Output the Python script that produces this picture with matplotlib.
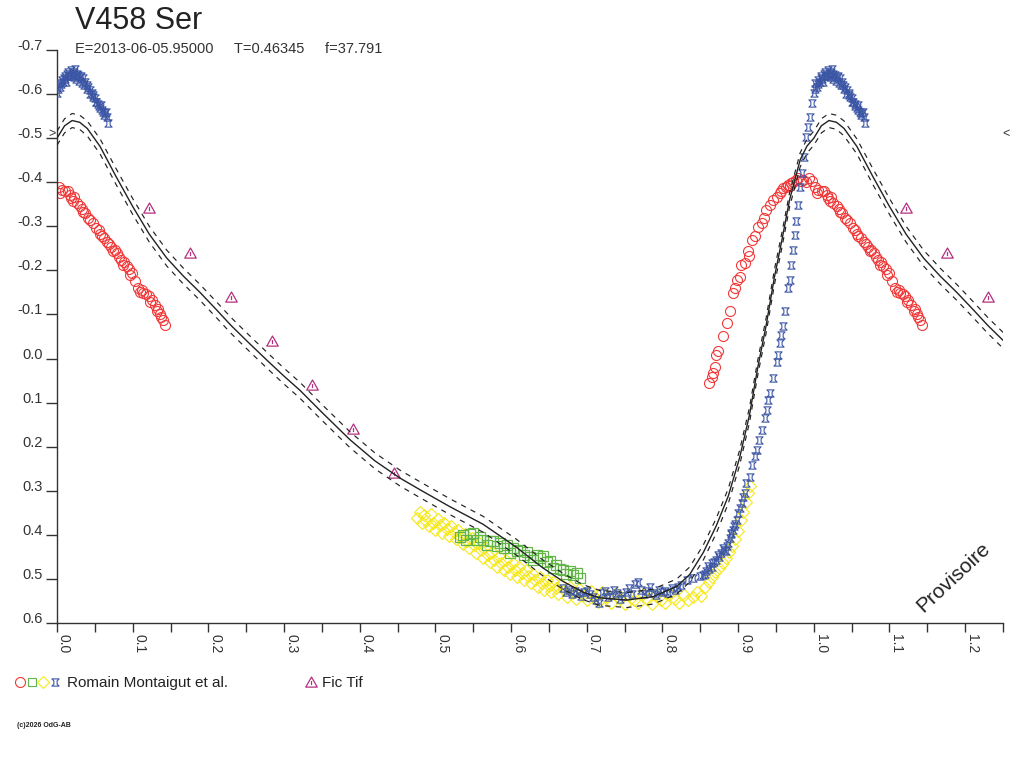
import numpy as np
import matplotlib
matplotlib.use('Agg')
import matplotlib.pyplot as plt
from matplotlib.path import Path

plt.rcParams['font.family'] = ['Liberation Sans', 'DejaVu Sans']

# ---------------- data (phase, magnitude) ----------------
title = 'V458 Ser'
subtitle = 'E=2013-06-05.95000     T=0.46345     f=37.791'
legend_obs = 'Romain Montaigut et al.'
legend_fic = 'Fic Tif'

x_major = [0.0, 0.1, 0.2, 0.3, 0.4, 0.5, 0.6, 0.7, 0.8, 0.9, 1.0, 1.1, 1.2]
x_minor = [0.05, 0.15, 0.25, 0.35, 0.45, 0.55, 0.65, 0.75, 0.85, 0.95, 1.05, 1.15, 1.25]
x_labels = ['0.0', '0.1', '0.2', '0.3', '0.4', '0.5', '0.6', '0.7', '0.8', '0.9', '1.0', '1.1', '1.2']
y_ticks = [-0.7, -0.6, -0.5, -0.4, -0.3, -0.2, -0.1, 0.0, 0.1, 0.2, 0.3, 0.4, 0.5, 0.6]
y_labels = ['-0.7', '-0.6', '-0.5', '-0.4', '-0.3', '-0.2', '-0.1', '0.0', '0.1', '0.2', '0.3',
            '0.4', '0.5', '0.6']

fit_phase = [0.000, 0.010, 0.020, 0.030, 0.040, 0.057, 0.078, 0.100, 0.122, 0.145, 0.167, 0.189,
             0.210, 0.230, 0.255, 0.280, 0.300, 0.321, 0.350, 0.387, 0.420, 0.453, 0.480, 0.519,
             0.563, 0.607, 0.642, 0.669, 0.695, 0.717, 0.753, 0.788, 0.819, 0.836, 0.854, 0.871,
             0.887, 0.902, 0.915, 0.926, 0.937, 0.948, 0.958, 0.968, 0.982, 0.991]
fit_mag = [-0.500, -0.528, -0.540, -0.536, -0.522, -0.481, -0.413, -0.345, -0.282, -0.228, -0.187,
           -0.150, -0.112, -0.075, -0.033, 0.008, 0.040, 0.072, 0.122, 0.184, 0.232, 0.271, 0.298,
           0.336, 0.376, 0.428, 0.475, 0.506, 0.530, 0.543, 0.548, 0.540, 0.517, 0.490, 0.440,
           0.380, 0.312, 0.225, 0.128, 0.020, -0.075, -0.185, -0.270, -0.360, -0.451, -0.482]
fit_sigma = [0.016, 0.016, 0.016, 0.016, 0.017, 0.017, 0.018, 0.018, 0.018, 0.018, 0.018, 0.018,
             0.018, 0.018, 0.018, 0.018, 0.018, 0.018, 0.018, 0.018, 0.018, 0.018, 0.018, 0.018,
             0.018, 0.018, 0.018, 0.018, 0.017, 0.017, 0.017, 0.017, 0.017, 0.017, 0.017, 0.017,
             0.017, 0.017, 0.017, 0.017, 0.017, 0.017, 0.017, 0.016, 0.016, 0.016]

red_phase = [0.002, 0.004, 0.006, 0.011, 0.014, 0.017, 0.019, 0.021, 0.023, 0.026, 0.030, 0.033,
             0.035, 0.037, 0.041, 0.044, 0.048, 0.052, 0.055, 0.057, 0.059, 0.062, 0.066, 0.069,
             0.072, 0.074, 0.076, 0.079, 0.082, 0.085, 0.087, 0.089, 0.092, 0.095, 0.097, 0.099,
             0.103, 0.107, 0.110, 0.112, 0.114, 0.118, 0.121, 0.123, 0.125, 0.129, 0.132, 0.134,
             0.136, 0.138, 0.140, 0.143,
             0.862, 0.865, 0.867, 0.869, 0.871, 0.873, 0.880, 0.885, 0.889, 0.893, 0.896, 0.898,
             0.902, 0.904, 0.909, 0.913, 0.915, 0.918, 0.922, 0.926, 0.931, 0.934, 0.937, 0.942,
             0.946, 0.951, 0.955, 0.957, 0.959, 0.963, 0.966, 0.968, 0.970, 0.973, 0.976, 0.979,
             0.983, 0.986, 0.990, 0.993, 0.997]
red_mag = [-0.390, -0.376, -0.383, -0.379, -0.381, -0.371, -0.364, -0.357, -0.366, -0.352, -0.345,
           -0.340, -0.333, -0.330, -0.318, -0.315, -0.307, -0.296, -0.292, -0.283, -0.277, -0.274,
           -0.265, -0.259, -0.254, -0.244, -0.247, -0.239, -0.231, -0.224, -0.212, -0.218, -0.209,
           -0.203, -0.190, -0.194, -0.175, -0.160, -0.152, -0.156, -0.148, -0.146, -0.141, -0.128,
           -0.133, -0.122, -0.107, -0.112, -0.100, -0.094, -0.088, -0.076,
           0.056, 0.041, 0.033, 0.020, -0.008, -0.016, -0.050, -0.080, -0.107, -0.148, -0.160,
           -0.178, -0.186, -0.212, -0.216, -0.243, -0.232, -0.269, -0.277, -0.299, -0.307, -0.318,
           -0.337, -0.349, -0.360, -0.367, -0.375, -0.380, -0.386, -0.390, -0.394, -0.392, -0.398,
           -0.401, -0.405, -0.409, -0.403, -0.405, -0.400, -0.409, -0.403]

green_phase = [0.532, 0.537, 0.541, 0.546, 0.550, 0.555, 0.559, 0.563, 0.568, 0.572, 0.576, 0.581,
               0.585, 0.590, 0.594, 0.599, 0.603, 0.608, 0.612, 0.617, 0.621, 0.625, 0.629, 0.634,
               0.638, 0.642, 0.647, 0.651, 0.656, 0.660, 0.664, 0.669, 0.673, 0.678, 0.682, 0.687,
               0.691]
green_mag = [0.405, 0.400, 0.411, 0.398, 0.396, 0.412, 0.405, 0.411, 0.422, 0.413, 0.415, 0.426,
             0.419, 0.430, 0.422, 0.441, 0.430, 0.436, 0.434, 0.445, 0.438, 0.450, 0.456, 0.445,
             0.452, 0.449, 0.462, 0.460, 0.475, 0.468, 0.478, 0.479, 0.488, 0.483, 0.492, 0.487,
             0.498]

yellow_phase = [0.476, 0.479, 0.482, 0.485, 0.488, 0.491, 0.494, 0.497, 0.500, 0.503, 0.506, 0.509,
                0.512, 0.515, 0.518, 0.521, 0.524, 0.527, 0.530, 0.533, 0.536, 0.539, 0.542, 0.545,
                0.548, 0.551, 0.554, 0.557, 0.560, 0.563, 0.566, 0.569, 0.572, 0.575, 0.578, 0.581,
                0.584, 0.587, 0.590, 0.593, 0.596, 0.599, 0.602, 0.605, 0.608, 0.611, 0.614, 0.617,
                0.620, 0.623, 0.626, 0.629, 0.632, 0.635, 0.638, 0.641, 0.644, 0.647, 0.650, 0.653,
                0.656, 0.659, 0.662, 0.666, 0.670, 0.674, 0.678, 0.682, 0.686, 0.690, 0.695, 0.700,
                0.705, 0.710, 0.715, 0.720, 0.726, 0.732, 0.738, 0.744, 0.750, 0.756, 0.762, 0.768,
                0.774, 0.780, 0.786, 0.792, 0.798, 0.804, 0.810, 0.816, 0.822, 0.828, 0.834, 0.840,
                0.846, 0.851, 0.856, 0.861, 0.866, 0.870, 0.875, 0.880, 0.884, 0.888, 0.892, 0.896,
                0.900, 0.904, 0.907, 0.910, 0.913, 0.916]
yellow_mag = [0.362, 0.348, 0.372, 0.355, 0.368, 0.380, 0.352, 0.374, 0.388, 0.365, 0.378, 0.395,
              0.372, 0.386, 0.402, 0.380, 0.394, 0.410, 0.390, 0.404, 0.420, 0.398, 0.414, 0.430,
              0.408, 0.424, 0.442, 0.418, 0.435, 0.452, 0.428, 0.446, 0.462, 0.440, 0.456, 0.472,
              0.448, 0.465, 0.480, 0.456, 0.472, 0.488, 0.465, 0.480, 0.495, 0.472, 0.487, 0.502,
              0.480, 0.494, 0.510, 0.488, 0.502, 0.518, 0.495, 0.510, 0.524, 0.502, 0.516, 0.530,
              0.508, 0.520, 0.534, 0.512, 0.526, 0.540, 0.518, 0.532, 0.545, 0.522, 0.536, 0.548,
              0.528, 0.540, 0.552, 0.530, 0.544, 0.554, 0.532, 0.546, 0.556, 0.536, 0.548, 0.555,
              0.534, 0.546, 0.556, 0.536, 0.548, 0.555, 0.534, 0.546, 0.554, 0.536, 0.548, 0.542,
              0.530, 0.538, 0.518, 0.508, 0.496, 0.485, 0.476, 0.464, 0.452, 0.440, 0.425, 0.410,
              0.392, 0.366, 0.348, 0.325, 0.305, 0.290]

blue_phase = [0.000, 0.001, 0.002, 0.004, 0.005, 0.006, 0.008, 0.009, 0.010, 0.011, 0.012, 0.013,
              0.015, 0.016, 0.017, 0.019, 0.020, 0.021, 0.022, 0.023, 0.024, 0.025, 0.026, 0.028,
              0.029, 0.030, 0.032, 0.033, 0.035, 0.036, 0.037, 0.039, 0.040, 0.041, 0.043, 0.044,
              0.046, 0.047, 0.048, 0.050, 0.051, 0.052, 0.054, 0.055, 0.057, 0.058, 0.059, 0.061,
              0.062, 0.063, 0.065, 0.066, 0.068,
              0.668, 0.672, 0.676, 0.680, 0.684, 0.688, 0.692, 0.696, 0.700, 0.704, 0.708, 0.712,
              0.716, 0.720, 0.724, 0.728, 0.732, 0.736, 0.740, 0.744, 0.748, 0.752, 0.756, 0.760,
              0.764, 0.768, 0.772, 0.776, 0.780, 0.784, 0.788, 0.792, 0.796, 0.800, 0.804, 0.808,
              0.812, 0.816, 0.820,
              0.825, 0.832, 0.841, 0.849, 0.853, 0.856, 0.858, 0.860, 0.862, 0.865, 0.866, 0.868,
              0.871, 0.873, 0.875, 0.878, 0.880, 0.882, 0.884, 0.885, 0.887, 0.889, 0.890, 0.891,
              0.8935, 0.895, 0.896, 0.898, 0.900, 0.902, 0.9045, 0.907, 0.909, 0.911, 0.9155, 0.919,
              0.922, 0.9245, 0.928, 0.931, 0.935, 0.9375, 0.940, 0.942, 0.946, 0.951, 0.953, 0.955,
              0.957, 0.959, 0.962, 0.9665, 0.968, 0.9705, 0.973, 0.975, 0.977, 0.979, 0.9815, 0.984,
              0.987, 0.990, 0.9925, 0.995, 0.998]
blue_mag = [-0.602, -0.612, -0.624, -0.615, -0.622, -0.632, -0.628, -0.636, -0.640, -0.634, -0.628,
            -0.645, -0.651, -0.640, -0.644, -0.655, -0.642, -0.648, -0.638, -0.651, -0.656, -0.634,
            -0.645, -0.643, -0.630, -0.638, -0.640, -0.626, -0.636, -0.620, -0.628, -0.621, -0.612,
            -0.616, -0.600, -0.609, -0.603, -0.598, -0.594, -0.590, -0.582, -0.583, -0.578, -0.572,
            -0.568, -0.575, -0.565, -0.560, -0.552, -0.556, -0.560, -0.549, -0.534,
            0.520, 0.530, 0.525, 0.535, 0.528, 0.532, 0.538, 0.530, 0.527, 0.535, 0.541, 0.548,
            0.555, 0.533, 0.528, 0.540, 0.536, 0.524, 0.531, 0.545, 0.538, 0.529, 0.520, 0.534,
            0.512, 0.507, 0.526, 0.535, 0.528, 0.519, 0.531, 0.537, 0.524, 0.530, 0.527, 0.533,
            0.521, 0.526, 0.518,
            0.513, 0.502, 0.498, 0.494, 0.490, 0.488, 0.483, 0.470, 0.478, 0.472, 0.465, 0.462,
            0.456, 0.445, 0.450, 0.441, 0.430, 0.434, 0.437, 0.426, 0.418, 0.407, 0.395, 0.398,
            0.388, 0.380, 0.375, 0.366, 0.351, 0.340, 0.328, 0.315, 0.305, 0.282, 0.268, 0.241,
            0.222, 0.207, 0.184, 0.162, 0.135, 0.116, 0.094, 0.078, 0.044, 0.007, -0.008, -0.035,
            -0.054, -0.073, -0.107, -0.160, -0.178, -0.212, -0.246, -0.280, -0.311, -0.349, -0.390,
            -0.420, -0.458, -0.503, -0.526, -0.549, -0.579]

fic_phase = [0.122, 0.176, 0.230, 0.284, 0.337, 0.391, 0.445]
fic_mag = [-0.341, -0.240, -0.140, -0.040, 0.060, 0.159, 0.260]

PHASE_MAX = 1.25


def two_cycles(ph, mg, limit=PHASE_MAX):
    ph = np.asarray(ph, float)
    mg = np.asarray(mg, float)
    sel = ph + 1.0 <= limit + 0.006
    return np.concatenate([ph, ph[sel] + 1.0]), np.concatenate([mg, mg[sel]])


# ---------------- markers ----------------
M, L_, C = Path.MOVETO, Path.LINETO, Path.CLOSEPOLY
blue_marker = Path([(-1, 1), (1, 1), (0.45, 0.45), (0.45, -0.45), (1, -1), (-1, -1),
                    (-0.45, -0.45), (-0.45, 0.45), (-1, 1)],
                   [M, L_, L_, L_, L_, L_, L_, L_, C])
tri_marker = Path([(-1, -0.8), (1, -0.8), (0, 0.95), (-1, -0.8), (0, -0.45), (0, 0.25)],
                  [M, L_, L_, C, M, L_])

RED = '#f03a3a'
GREEN = '#62b648'
YELLOW = '#f5e81c'
BLUE = '#3b55a5'
MAGENTA = '#b3307f'
INK = '#222222'
GREY = '#333333'

MS_RED, MS_YEL, MS_GRN, MS_BLU, MS_TRI = 7.2, 6.3, 6.8, 5.2, 8.3

# ---------------- figure ----------------
W, H = 1024, 768
fig = plt.figure(figsize=(W / 100, H / 100), dpi=100)
AL, AR, AT, AB = 57, 1003, 50, 623
ax = fig.add_axes([AL / W, 1 - AB / H, (AR - AL) / W, (AB - AT) / H])
ax.set_xlim(0, PHASE_MAX)
ax.set_ylim(0.6, -0.7)

for s in ('top', 'right'):
    ax.spines[s].set_visible(False)
for s in ('left', 'bottom'):
    ax.spines[s].set_color(GREY)
    ax.spines[s].set_linewidth(1.0)

# observations
px, py = two_cycles(red_phase, red_mag)
ax.plot(px, py, ls='none', marker='o', ms=MS_RED, mfc='none', mec=RED, mew=0.8, zorder=2)
px, py = two_cycles(yellow_phase, yellow_mag)
ax.plot(px, py, ls='none', marker='D', ms=MS_YEL, mfc='none', mec=YELLOW, mew=0.8, zorder=2)
px, py = two_cycles(green_phase, green_mag)
ax.plot(px, py, ls='none', marker='s', ms=MS_GRN, mfc='none', mec=GREEN, mew=0.9, zorder=3)
px, py = two_cycles(blue_phase, blue_mag)
ax.plot(px, py, ls='none', marker=blue_marker, ms=MS_BLU, mfc='none', mec=BLUE, mew=0.8, zorder=3)
px, py = two_cycles(fic_phase, fic_mag)
ax.plot(px, py, ls='none', marker=tri_marker, ms=MS_TRI, mfc='none', mec=MAGENTA, mew=0.9,
        zorder=4)

# fit and its band
fp, fm = two_cycles(fit_phase, fit_mag, limit=PHASE_MAX + 0.01)
_, fs = two_cycles(fit_phase, fit_sigma, limit=PHASE_MAX + 0.01)
ax.plot(fp, fm, color=INK, lw=1.0, zorder=6)
ax.plot(fp, fm - fs, color=INK, lw=0.85, ls=(0, (4.5, 4.5)), zorder=6)
ax.plot(fp, fm + fs, color=INK, lw=0.85, ls=(0, (4.5, 4.5)), zorder=6)

# ticks
ax.set_xticks(x_major)
ax.set_xticks(x_minor, minor=True)
ax.set_xticklabels(x_labels, rotation=270, ha='left', va='top')
ax.tick_params(axis='x', which='both', direction='out', length=6.5, width=1.0, color=GREY,
               pad=1.5, labelsize=10, labelcolor=GREY)
ax.set_yticks(y_ticks)
ax.set_yticklabels(y_labels, va='baseline')
ax.tick_params(axis='y', which='both', direction='out', length=8, width=1.0, color=GREY,
               pad=2.5, labelsize=10.5, labelcolor=GREY)

# ---------------- overlay in pixel coordinates ----------------
ov = fig.add_axes([0, 0, 1, 1], zorder=10)
ov.set_xlim(0, W)
ov.set_ylim(H, 0)
ov.axis('off')

ov.text(75, 29, title, fontsize=22, color=INK, ha='left', va='baseline')
ov.text(75, 53, subtitle, fontsize=10.5, color=GREY, ha='left', va='baseline')

ov.text(953, 577, 'Provisoire', fontsize=15, color=INK, rotation=43, ha='center', va='center',
        rotation_mode='anchor')
ov.text(1006, 134, '<', fontsize=9, color=GREY, ha='center', va='center')
ov.text(52, 134, '>', fontsize=9, color=GREY, ha='center', va='center')

# legend
ly = 682
ov.plot([20], [ly], ls='none', marker='o', ms=MS_RED, mfc='none', mec=RED, mew=0.8)
ov.plot([32], [ly], ls='none', marker='s', ms=MS_GRN - 1.2, mfc='none', mec=GREEN, mew=0.8)
ov.plot([43], [ly], ls='none', marker='D', ms=MS_YEL - 0.6, mfc='none', mec=YELLOW, mew=0.8)
ov.plot([55], [ly], ls='none', marker=blue_marker, ms=MS_BLU, mfc='none', mec=BLUE, mew=0.8)
ov.text(67, 687, legend_obs, fontsize=11, color=INK, ha='left', va='baseline')
ov.plot([311], [ly], ls='none', marker=tri_marker, ms=MS_TRI, mfc='none', mec=MAGENTA, mew=0.9)
ov.text(322, 687, legend_fic, fontsize=11, color=INK, ha='left', va='baseline')

ov.text(17, 727, '(c)2026 OdG-AB', fontsize=5, color=INK, fontweight='bold', ha='left',
        va='baseline')

fig.savefig('out.png', dpi=100, facecolor='white')
